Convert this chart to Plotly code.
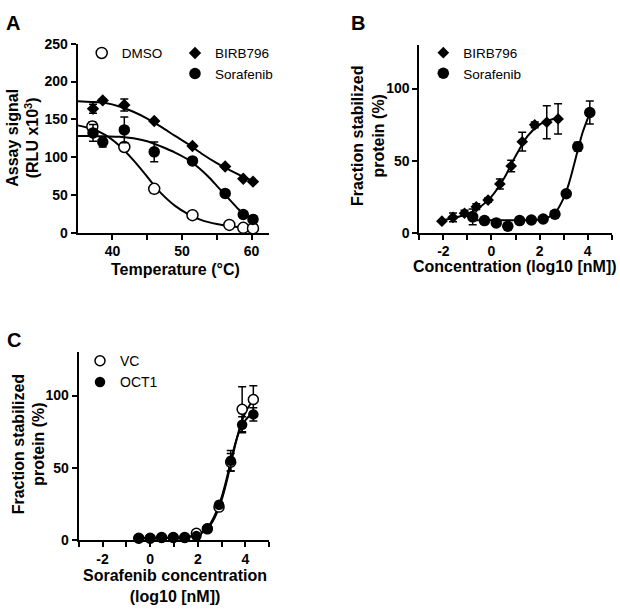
import plotly.graph_objects as go

FONT = "Liberation Sans, Arial, Helvetica, sans-serif"

# ---------------- Panel A data ----------------
dmso_T = [37.1, 41.7, 46.0, 51.5, 56.8, 58.8, 60.2]
dmso_val = [140.5, 113.4, 58.0, 23.2, 10.3, 6.4, 5.7]
dmso_err = [6.0, 0, 5.0, 0, 0, 0, 0]

birb_T = [37.2, 38.6, 41.7, 46.0, 51.5, 56.2, 58.8, 60.2]
birb_val = [164, 175, 169, 147.8, 114.7, 87.6, 71.4, 67.5]
birb_err = [6.0, 2.0, 8.0, 0, 0, 0, 0, 0]

sora_T = [37.2, 38.6, 41.7, 46.0, 51.5, 56.2, 58.8, 60.2]
sora_val = [132, 120, 136, 107, 95, 52, 24, 17.6]
sora_err = [11.0, 6.5, 17.0, 13.0, 0, 0, 0, 0]

curveA_T = [35, 37, 39, 41, 43, 45, 46, 47, 49, 51, 53, 55, 57, 59, 60.2]
dmso_curve = [142, 137.5, 129, 115, 96, 74, 62.5, 52, 35.5, 24, 16, 11.5, 8.5, 6.8, 6.3]
birbA_T = [35, 37, 39, 41, 43, 45, 47, 49, 51, 53, 55, 57, 59, 60.2]
birb_curve = [174, 173, 171.5, 167, 160, 151, 140, 128, 116.5, 103.5, 92, 82, 73, 68]
soraA_T = [35, 37, 39, 41, 43, 45, 47, 49, 51, 52, 53, 54, 55, 56, 57, 58, 59, 60.2]
sora_curve = [128, 128, 127.5, 127, 125, 121, 114, 106, 96, 89, 81, 72, 62, 52, 42, 32, 24, 17]

# ---------------- Panel B data ----------------
birbB_x = [-2.06, -1.6, -1.12, -0.63, -0.14, 0.35, 0.82, 1.28, 1.8, 2.3, 2.77]
birbB_y = [8, 10.6, 13.5, 18, 22.6, 33.8, 46.2, 63.1, 74.8, 76.6, 78.9]
birbB_err = [0, 3, 2, 2, 1.5, 3.5, 4, 6.5, 2, 11.5, 10.5]
soraB_x = [-0.78, -0.29, 0.2, 0.68, 1.17, 1.66, 2.15, 2.64, 3.11, 3.59, 4.09]
soraB_y = [11, 8.4, 6.8, 4.5, 8.4, 8.8, 9.5, 12.8, 27, 59.7, 83.4]
soraB_err = [5.5, 0, 0, 0, 0, 0, 0, 2, 1, 3, 8]

birbB_cx = [-2.06, -1.5, -1, -0.5, 0, 0.5, 1, 1.5, 2, 2.5, 2.77]
birbB_cy = [8.5, 10.5, 13, 17.5, 25, 37, 53, 67, 75, 78.5, 79.5]
soraB_cx = [-0.78, 0, 1, 1.5, 2, 2.4, 2.7, 3.0, 3.2, 3.4, 3.6, 3.8, 4.09]
soraB_cy = [8.6, 8.6, 8.6, 8.7, 9.2, 11, 15, 24, 33, 45, 58, 70, 83]

# ---------------- Panel C data ----------------
c_x = [-0.48, 0, 0.48, 0.97, 1.45, 1.94, 2.4, 2.89, 3.38, 3.86, 4.33]
vc_y = [1.5, 1.5, 2, 2, 2, 5, 8, 23, 54, 90.5, 97.3]
vc_err = [0, 0, 0, 0, 0, 0, 0, 1, 6, 15.5, 9.5]
oct_y = [1.6, 1.6, 2, 2, 2, 3, 8.3, 24.7, 55, 79.8, 87]
oct_err = [0, 0, 0, 0, 0, 0, 0, 1, 7, 5.5, 4.5]

c_cx = [-0.48, 0.5, 1.5, 2.0, 2.4, 2.7, 3.0, 3.2, 3.4, 3.6, 3.8, 4.0, 4.2, 4.33]
vc_curve = [1.5, 1.6, 2.2, 3.8, 8, 15.5, 28, 40, 54, 68, 80, 88.5, 94, 97]
oct_curve = [1.7, 1.8, 2.3, 4, 8.8, 17, 30, 42, 56, 68.5, 77.5, 83, 86.5, 88]

# ---------------- Tick labels ----------------
A_xticks = [40, 45, 50, 55, 60]
A_xlabels = ["40", "", "50", "", "60"]
A_yticks = [0, 50, 100, 150, 200, 250]
log_ticks = [-3, -2, -1, 0, 1, 2, 3, 4, 5]
log_labels = ["", "-2", "", "0", "", "2", "", "4", ""]
frac_yticks = [0, 50, 100]

W, H = 620, 614


def px(x):
    return x / W


def py(y):
    return 1 - y / H


fig = go.Figure()

LW = 2
EB = dict(type="data", color="black", thickness=1.5, width=4, visible=True)


def curve(x, y, xa, ya):
    fig.add_trace(go.Scatter(x=x, y=y, mode="lines", line=dict(color="black", width=LW, shape="spline", smoothing=0.8),
                             xaxis=xa, yaxis=ya, showlegend=False, hoverinfo="skip", cliponaxis=False))


def pts(x, y, err, xa, ya, name, symbol, size, filled, legend):
    mk = dict(symbol=symbol, size=size, color="black" if filled else "white",
              line=dict(color="black", width=0 if filled else 1.5))
    fig.add_trace(go.Scatter(x=x, y=y, mode="markers", marker=mk, name=name,
                             error_y=dict(EB, array=err), xaxis=xa, yaxis=ya,
                             legend=legend, cliponaxis=False))


# Panel A
curve(curveA_T, dmso_curve, "x", "y")
curve(birbA_T, birb_curve, "x", "y")
curve(soraA_T, sora_curve, "x", "y")
pts(dmso_T, dmso_val, dmso_err, "x", "y", "DMSO", "circle", 11, False, "legend")
pts(birb_T, birb_val, birb_err, "x", "y", "BIRB796", "diamond", 9.5, True, "legend2")
pts(sora_T, sora_val, sora_err, "x", "y", "Sorafenib", "circle", 11.5, True, "legend2")

# Panel B
curve(birbB_cx, birbB_cy, "x2", "y2")
curve(soraB_cx, soraB_cy, "x2", "y2")
pts(birbB_x, birbB_y, birbB_err, "x2", "y2", "BIRB796", "diamond", 9, True, "legend3")
pts(soraB_x, soraB_y, soraB_err, "x2", "y2", "Sorafenib", "circle", 11.5, True, "legend3")

# Panel C
curve(c_cx, vc_curve, "x3", "y3")
curve(c_cx, oct_curve, "x3", "y3")
pts(c_x, vc_y, vc_err, "x3", "y3", "VC", "circle", 10, False, "legend4")
pts(c_x, oct_y, oct_err, "x3", "y3", "OCT1", "circle", 10.5, True, "legend4")

tickfont = dict(family=FONT, size=14, color="black", weight=700)
axcommon = dict(showline=True, linecolor="black", linewidth=LW, ticks="outside", ticklen=5,
                tickwidth=LW, tickcolor="black", showgrid=False, zeroline=False,
                tickfont=tickfont, tickmode="array", fixedrange=True)

fig.update_layout(
    width=W, height=H, margin=dict(l=0, r=0, t=0, b=0),
    paper_bgcolor="white", plot_bgcolor="white",
    font=dict(family=FONT, color="black"),
    xaxis=dict(axcommon, domain=[px(77.7), px(269)], range=[35, 62.5], tickvals=A_xticks, ticktext=A_xlabels,
               anchor="y"),
    yaxis=dict(axcommon, domain=[py(230.7), py(36.7)], range=[0, 250], tickvals=A_yticks, anchor="x"),
    xaxis2=dict(axcommon, domain=[px(419.3), px(611.7)], range=[-3, 5], tickvals=log_ticks, ticktext=log_labels,
                anchor="y2"),
    yaxis2=dict(axcommon, domain=[py(230.7), py(38.3)], range=[0, 130], tickvals=frac_yticks, anchor="x2"),
    xaxis3=dict(axcommon, domain=[px(78.7), px(269.3)], range=[-3, 5], tickvals=log_ticks, ticktext=log_labels,
                anchor="y3"),
    yaxis3=dict(axcommon, domain=[py(546.7), py(353.3)], range=[0, 130], tickvals=frac_yticks, anchor="x3"),
)

legfont = dict(family=FONT, size=13.5, color="black")
legbase = dict(bgcolor="rgba(0,0,0,0)", borderwidth=0, font=legfont, xanchor="left", yanchor="top",
               xref="paper", yref="paper", itemclick=False, itemdoubleclick=False)
fig.update_layout(
    legend=dict(legbase, x=px(81.7), y=py(30.5)),
    legend2=dict(legbase, x=px(175), y=py(30.5)),
    legend3=dict(legbase, x=px(423.3), y=py(30.2)),
    legend4=dict(legbase, x=px(80), y=py(346.2), font=dict(legfont, size=14)),
)

titlefont = dict(family=FONT, size=16, color="black")
letterfont = dict(family=FONT, size=20, color="black")


def ann(text, x, y, font, angle=0):
    fig.add_annotation(text=text, x=px(x), y=py(y), xref="paper", yref="paper", showarrow=False,
                       xanchor="center", yanchor="middle", textangle=angle, font=font)


ann("<b>A</b>", 13.3, 15, letterfont)
ann("<b>B</b>", 358.3, 15, letterfont)
ann("<b>C</b>", 14.2, 340.8, letterfont)

ann("<b>Temperature (°C)</b>", 175.8, 268, titlefont)
ann("<b>Assay signal</b><br><b>(RLU x10<sup>3</sup>)</b>", 22.2, 133, titlefont, -90)
ann("<b>Concentration (log10 [nM])</b>", 515, 265, titlefont)
ann("<b>Fraction stabilized</b><br><b>protein (%)</b>", 367.5, 132, titlefont, -90)
ann("<b>Sorafenib concentration</b><br><b>(log10 [nM])</b>", 175, 593, titlefont)
ann("<b>Fraction stabilized</b><br><b>protein (%)</b>", 29, 448, titlefont, -90)

POST = ("document.body.style.margin='0';document.body.style.overflow='hidden';"
        "var d=document.getElementsByClassName('plotly-graph-div')[0];"
        "d.style.position='fixed';d.style.left='0px';d.style.top='0px';")
fig.write_html("out.html", config={"displayModeBar": False}, post_script=POST)
